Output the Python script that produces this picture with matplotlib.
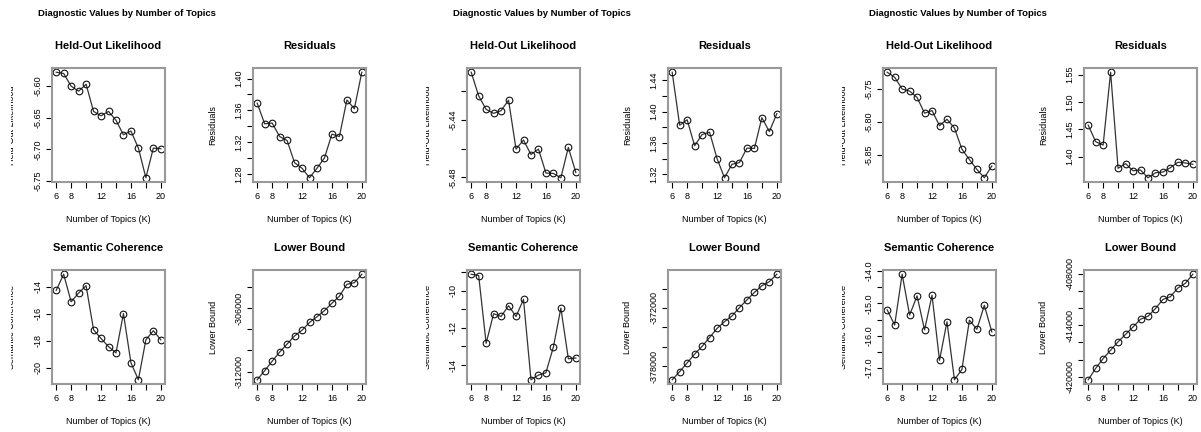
import numpy as np
import matplotlib
matplotlib.use('Agg')
import matplotlib.pyplot as plt
from matplotlib.transforms import Bbox, TransformedBbox

plt.rcParams['font.family'] = ['Liberation Sans', 'DejaVu Sans']

# 候補トピック数
K = [6, 7, 8, 9, 10, 11, 12, 13, 14, 15, 16, 17, 18, 19, 20]

# 左のモデル
heldout_1 = [-5.578, -5.580, -5.600, -5.608, -5.597, -5.640, -5.647, -5.640,
             -5.654, -5.677, -5.671, -5.698, -5.745, -5.698, -5.699]
residual_1 = [1.369, 1.343, 1.344, 1.327, 1.322, 1.294, 1.287, 1.275,
              1.287, 1.300, 1.330, 1.327, 1.373, 1.362, 1.408]
semcoh_1 = [-14.25, -13.05, -15.10, -14.45, -13.90, -17.18, -17.83, -18.43,
            -18.90, -15.98, -19.63, -20.90, -17.93, -17.25, -17.93]
bound_1 = [-312760, -311905, -311016, -310159, -309397, -308635, -308095, -307365,
           -306825, -306254, -305556, -304889, -303778, -303619, -302825]

# 中央のモデル
heldout_2 = [-5.4066, -5.4231, -5.4325, -5.4353, -5.4334, -5.4261, -5.4602, -5.4539,
             -5.4640, -5.4602, -5.4769, -5.4772, -5.4802, -5.4590, -5.4765]
residual_2 = [1.4503, 1.3828, 1.3897, 1.3566, 1.3708, 1.3738, 1.3402, 1.3157,
              1.3329, 1.3351, 1.3535, 1.3531, 1.3923, 1.3746, 1.3974]
semcoh_2 = [-9.12, -9.19, -12.83, -11.24, -11.39, -10.81, -11.39, -10.47,
            -14.79, -14.54, -14.41, -13.03, -10.94, -13.66, -13.62]
bound_2 = [-379391, -378557, -377652, -376748, -375948, -375043, -374104, -373409,
           -372817, -371965, -371165, -370400, -369704, -369287, -368522]

# 右のモデル
heldout_3 = [-5.7245, -5.7321, -5.7500, -5.7531, -5.7628, -5.7867, -5.7827, -5.8056,
             -5.7959, -5.8092, -5.8413, -5.8570, -5.8720, -5.8847, -5.8668]
residual_3 = [1.4574, 1.4272, 1.4210, 1.5543, 1.3784, 1.3870, 1.3740, 1.3753,
              1.3611, 1.3703, 1.3716, 1.3796, 1.3895, 1.3883, 1.3858]
semcoh_3 = [-15.20, -15.67, -14.10, -15.36, -14.77, -15.82, -14.75, -16.76,
            -15.57, -17.36, -17.04, -15.52, -15.80, -15.06, -15.88]
bound_3 = [-420353, -419020, -417882, -416902, -415922, -415059, -414196, -413294,
           -412941, -412039, -410980, -410667, -409647, -409098, -408039]

x_ticks = [6, 8, 10, 12, 14, 16, 18, 20]
x_labels = ['6', '8', '', '12', '', '16', '', '20']

# 目盛り (位置, ラベル)
yticks_1 = [
    ([-5.75, -5.70, -5.65, -5.60], ['-5.75', '-5.70', '-5.65', '-5.60']),
    ([1.28, 1.30, 1.32, 1.34, 1.36, 1.38, 1.40], ['1.28', '', '1.32', '', '1.36', '', '1.40']),
    ([-20, -18, -16, -14], ['-20', '-18', '-16', '-14']),
    ([-312000, -310000, -308000, -306000, -304000], ['-312000', '', '', '-306000', '']),
]
yticks_2 = [
    ([-5.48, -5.46, -5.44, -5.42], ['-5.48', '', '-5.44', '']),
    ([1.32, 1.34, 1.36, 1.38, 1.40, 1.42, 1.44], ['1.32', '', '1.36', '', '1.40', '', '1.44']),
    ([-14, -13, -12, -11, -10, -9], ['-14', '', '-12', '', '-10', '']),
    ([-378000, -376000, -374000, -372000, -370000], ['-378000', '', '', '-372000', '']),
]
yticks_3 = [
    ([-5.85, -5.80, -5.75], ['-5.85', '-5.80', '-5.75']),
    ([1.40, 1.45, 1.50, 1.55], ['1.40', '1.45', '1.50', '1.55']),
    ([-17.0, -16.5, -16.0, -15.5, -15.0, -14.5, -14.0], ['-17.0', '', '-16.0', '', '-15.0', '', '-14.0']),
    ([-420000, -418000, -416000, -414000, -412000, -410000, -408000],
     ['-420000', '', '', '-414000', '', '', '-408000']),
]

titles = ['Held-Out Likelihood', 'Residuals', 'Semantic Coherence', 'Lower Bound']
clipped = [True, False, True, False]

W, H = 1201, 432
fig = plt.figure(figsize=(W / 100, H / 100), dpi=100)

group_left = [52, 467, 883]
col_off = [0, 201]
row_top = [68, 270]
aw, ah = 113, 114

groups = [
    ([heldout_1, residual_1, semcoh_1, bound_1], yticks_1),
    ([heldout_2, residual_2, semcoh_2, bound_2], yticks_2),
    ([heldout_3, residual_3, semcoh_3, bound_3], yticks_3),
]

for g, (series, yt) in enumerate(groups):
    gl = group_left[g]
    fig.text((gl + 75) / W, 1 - 13 / H, 'Diagnostic Values by Number of Topics',
             ha='center', va='center', fontsize=6.8, fontweight='bold')
    for i in range(4):
        r, c = divmod(i, 2)
        left = gl + col_off[c]
        top = row_top[r]
        ax = fig.add_axes([left / W, 1 - (top + ah) / H, aw / W, ah / H])
        y = np.array(series[i])
        ax.plot(K, y, color='#333333', lw=0.9, marker='o', ms=4.8,
                mfc='none', mec='#111111', mew=0.8)
        pad = (y.max() - y.min()) * 0.04
        ax.set_ylim(y.min() - pad, y.max() + pad)
        ax.set_xlim(6 - 14 * 0.04, 20 + 14 * 0.04)
        ax.set_xticks(x_ticks)
        ax.set_xticklabels(x_labels)
        ax.set_yticks(yt[i][0])
        ax.set_yticklabels(yt[i][1], rotation=90, va='center')
        ax.tick_params(direction='out', length=4, width=0.8, labelsize=6.5,
                       color='black', pad=3)
        for s in ax.spines.values():
            s.set_color('#999999')
            s.set_linewidth(1.5)
        ax.set_title(titles[i], fontsize=8, fontweight='bold', pad=14)
        fig.text((left + aw / 2) / W, 1 - (top + ah + 37) / H, 'Number of Topics (K)',
                 ha='center', va='center', fontsize=6.5)
        lx = left - 40
        t = fig.text(lx / W, 1 - (top + ah / 2) / H, titles[i], rotation=90,
                     ha='center', va='center', fontsize=6.5)
        if clipped[i]:
            t.set_clip_box(TransformedBbox(Bbox([[(lx - 1) / W, 0], [1, 1]]), fig.transFigure))
            t.set_clip_on(True)

fig.savefig('out.png', dpi=100)
